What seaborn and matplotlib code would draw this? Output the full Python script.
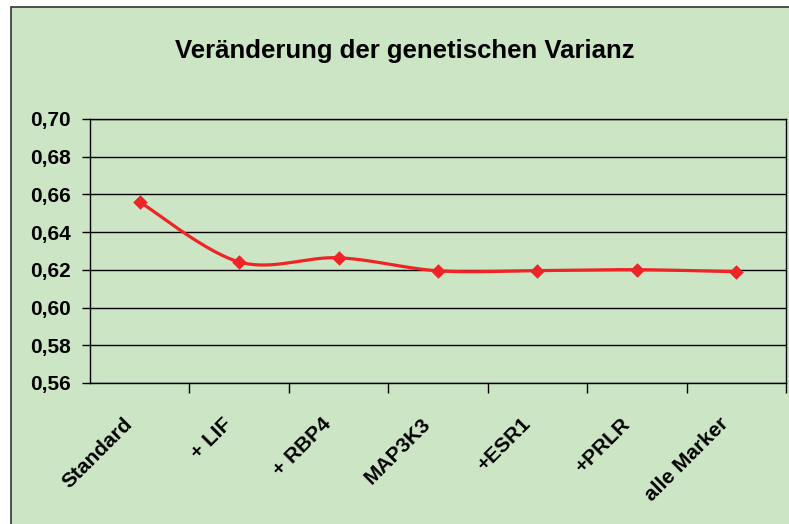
import numpy as np
import pandas as pd
import matplotlib
matplotlib.use("Agg")
import matplotlib.pyplot as plt
import matplotlib.transforms as mtransforms
import seaborn as sns
from matplotlib.patches import Rectangle

categories = ["Standard", "+ LIF", "+ RBP4", "MAP3K3", "+ESR1", "+PRLR", "alle Marker"]
values = [0.656, 0.6242, 0.6264, 0.6195, 0.6196, 0.6201, 0.6190]
yticks = [0.56, 0.58, 0.60, 0.62, 0.64, 0.66, 0.68, 0.70]
title = "Veränderung der genetischen Varianz"

sns.set_theme(style="white")
fam = ["Liberation Sans", "DejaVu Sans"]
plt.rcParams["font.family"] = fam
plt.rcParams["text.color"] = "black"
plt.rcParams["xtick.color"] = "black"
plt.rcParams["ytick.color"] = "black"

GREEN = "#CCE5C4"
RED = "#EE2427"

fig = plt.figure(figsize=(7.89, 5.24), dpi=100)
fig.patch.set_facecolor("white")
W, H = 789, 524
# green chart-area rectangle with dark border on left/top
fig.patches.append(Rectangle((11 / W, -0.1), 1.2, (H - 7) / H + 0.1, transform=fig.transFigure,
                             facecolor=GREEN, edgecolor="#333333", linewidth=1.2, zorder=-5))

ax = fig.add_axes([90 / W, 1 - 383 / H, (786 - 90) / W, (383 - 119) / H])
ax.set_zorder(2)
ax.set_facecolor(GREEN)

df = pd.DataFrame({"cat": categories, "val": values, "x": np.arange(len(categories))})

# smoothed line (Catmull-Rom as Excel smoothing) computed from the data
xs = df["x"].to_numpy(float)
ys = df["val"].to_numpy(float)
P = np.column_stack([xs, ys])
Pext = np.vstack([P[0], P, P[-1]])
curve = []
t = np.linspace(0, 1, 40)
for i in range(len(P) - 1):
    p0, p1, p2, p3 = Pext[i], Pext[i + 1], Pext[i + 2], Pext[i + 3]
    b0 = p1
    b1 = p1 + (p2 - p0) / 6
    b2 = p2 - (p3 - p1) / 6
    b3 = p2
    seg = ((1 - t) ** 3)[:, None] * b0 + (3 * (1 - t) ** 2 * t)[:, None] * b1 \
        + (3 * (1 - t) * t ** 2)[:, None] * b2 + (t ** 3)[:, None] * b3
    curve.append(seg if i == 0 else seg[1:])
curve = np.vstack(curve)
ax.plot(curve[:, 0], curve[:, 1], color=RED, lw=2.3, zorder=3, solid_capstyle="round")
sns.scatterplot(data=df, x="x", y="val", marker="D", s=55, color=RED,
                edgecolor=RED, linewidth=0, ax=ax, zorder=4)

ax.set_xlim(-0.5, len(categories) - 0.5)
ax.set_ylim(0.56, 0.70)
ax.set_yticks(yticks)
ax.set_yticklabels([f"{v:.2f}".replace(".", ",") for v in yticks],
                   fontsize=15, fontweight="bold", family=fam)
for v in yticks:
    ax.axhline(v, color="black", lw=1.0, zorder=1)

ax.set_xticks(np.arange(len(categories)) + 0.5, minor=True)
ax.set_xticks(np.arange(len(categories)))
ax.set_xticklabels(categories, rotation=45, ha="right", rotation_mode="anchor",
                   fontsize=15, fontweight="bold", family=fam)
ax.tick_params(axis="x", which="major", length=0, pad=14)
ax.tick_params(axis="x", which="minor", length=7, color="black", width=1, direction="out", bottom=True)
ax.tick_params(axis="y", length=6, color="black", width=1, direction="out", left=True, pad=8)
ax.set_xlabel("")
ax.set_ylabel("")

offset = mtransforms.ScaledTranslation(-17 / 100, -12 / 100, fig.dpi_scale_trans)
for lab in ax.get_xticklabels():
    lab.set_transform(lab.get_transform() + offset)

for s in ["left", "bottom", "right", "top"]:
    ax.spines[s].set_visible(True)
    ax.spines[s].set_color("black")
    ax.spines[s].set_linewidth(1.0)

fig.text(405 / W, 1 - 51 / H, title, ha="center", va="center",
         fontsize=18.5, fontweight="bold", family=fam, color="black")

fig.savefig("out.png", dpi=100, facecolor=fig.get_facecolor())
